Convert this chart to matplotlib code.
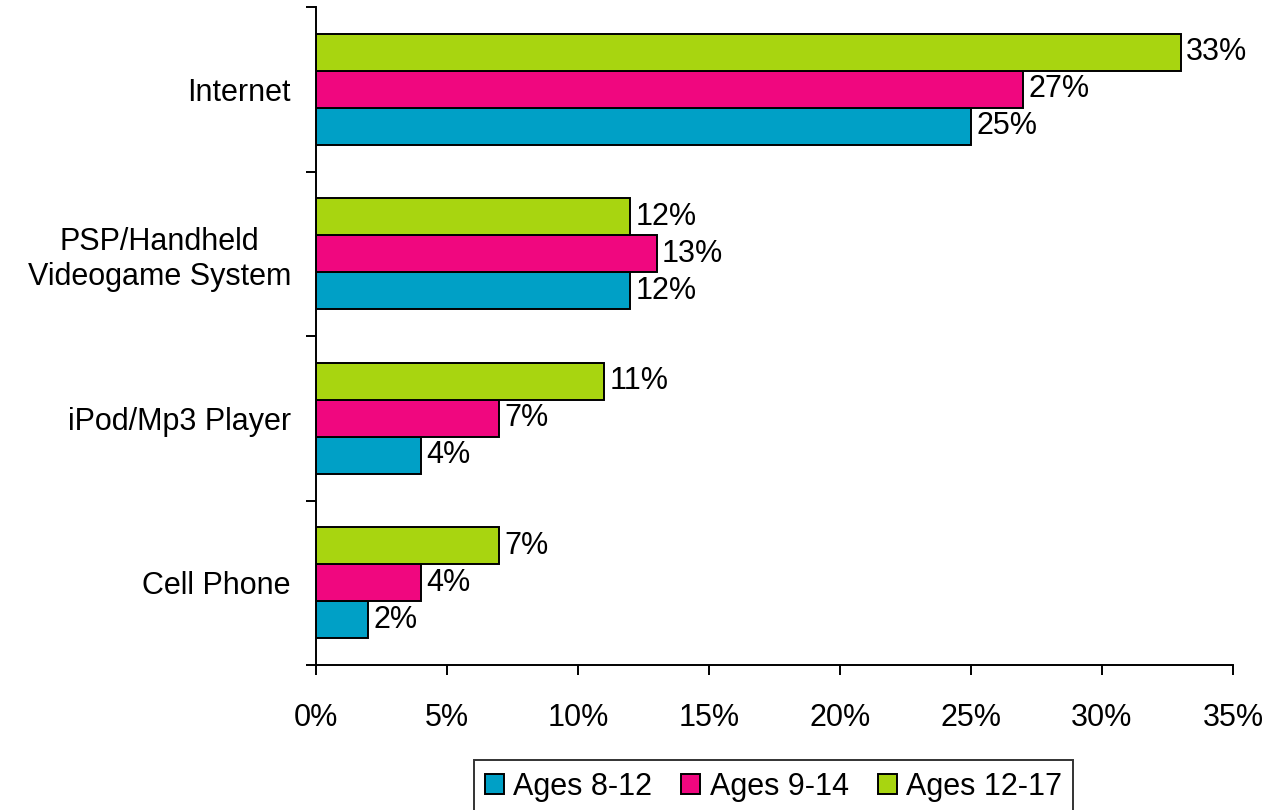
import numpy as np
import matplotlib
matplotlib.use("Agg")
import matplotlib.pyplot as plt
from matplotlib.ticker import FuncFormatter, FixedLocator

categories = ["Cell Phone", "iPod/Mp3 Player", "PSP/Handheld\nVideogame System", "Internet"]
series_names = ["Ages 8-12", "Ages 9-14", "Ages 12-17"]
ages_8_12 = [2, 4, 12, 25]
ages_9_14 = [4, 7, 13, 27]
ages_12_17 = [7, 11, 12, 33]
x_ticks = [0, 5, 10, 15, 20, 25, 30, 35]

colours = ["#00A0C6", "#F0077F", "#A8D510"]

plt.rcParams["font.family"] = ["Liberation Sans", "DejaVu Sans"]
plt.rcParams["font.size"] = 22

fig = plt.figure(figsize=(12.71, 8.10), dpi=100)
ax = fig.add_axes([316 / 1271, 1 - 665 / 810, (1233 - 316) / 1271, (665 - 7) / 810])

centres = np.arange(len(categories)) + 0.5
h = 0.225
lw = 1.4
all_series = [ages_8_12, ages_9_14, ages_12_17]
for i, (vals, name, col) in enumerate(zip(all_series, series_names, colours)):
    ys = centres + (i - 1) * h
    ax.barh(ys, vals, height=h, color=col, edgecolor="black", linewidth=lw, label=name)
    for y, v in zip(ys, vals):
        ax.text(v + 0.2, y, f"{v}%", va="center", ha="left", fontsize=22)

ax.set_xlim(0, 35)
ax.set_ylim(0, 4)
ax.set_xticks(x_ticks)
ax.xaxis.set_major_formatter(FuncFormatter(lambda v, p: f"{v:.0f}%"))

ax.yaxis.set_major_locator(FixedLocator([0, 1, 2, 3, 4]))
ax.yaxis.set_major_formatter(FuncFormatter(lambda v, p: ""))
ax.yaxis.set_minor_locator(FixedLocator(centres))
ax.set_yticklabels(categories, minor=True, multialignment="center")

ax.tick_params(axis="y", which="major", length=7, width=lw, direction="out")
ax.tick_params(axis="y", which="minor", length=0, pad=18)
ax.tick_params(axis="x", length=7, width=lw, direction="out", pad=20)

for s in ["top", "right"]:
    ax.spines[s].set_visible(False)
for s in ["left", "bottom"]:
    ax.spines[s].set_linewidth(lw)

leg = fig.legend(loc="upper center", bbox_to_anchor=(0.6086, 1 - 760 / 810), ncol=3,
                 frameon=True, fancybox=False, edgecolor="black", fontsize=22,
                 handlelength=0.62, handleheight=0.62, handletextpad=0.3,
                 columnspacing=0.95, borderpad=0.38, borderaxespad=0)
leg.get_frame().set_linewidth(lw)

fig.savefig("out.png", dpi=100)
